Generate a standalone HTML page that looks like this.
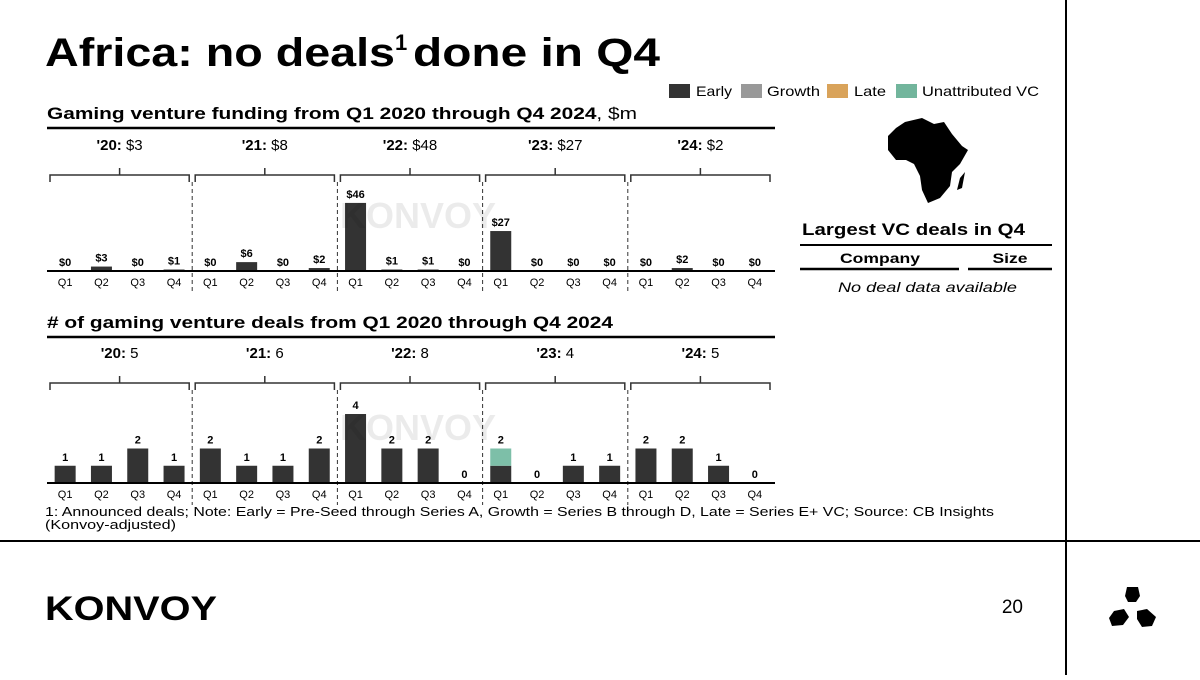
<!DOCTYPE html>
<html><head><meta charset="utf-8">
<style>
body{margin:0;width:1200px;height:675px;background:#fff;overflow:hidden;font-family:"Liberation Sans",sans-serif;}
svg text{font-family:"Liberation Sans",sans-serif;}
</style></head>
<body>
<svg id="s" width="1200" height="675" xmlns="http://www.w3.org/2000/svg">
<line x1="1066" y1="0" x2="1066" y2="675" stroke="#000" stroke-width="2"/>
<line x1="0" y1="541" x2="1200" y2="541" stroke="#000" stroke-width="2"/>
<text x="45" y="66" font-size="40" font-weight="bold"><tspan textLength="350" lengthAdjust="spacingAndGlyphs">Africa: no deals</tspan><tspan font-size="22" dy="-16">1</tspan><tspan dy="16" x="413" textLength="247" lengthAdjust="spacingAndGlyphs">done in Q4</tspan></text>
<g font-size="14">
<rect x="669" y="84" width="21" height="14" fill="#333"/><text x="696" y="96" textLength="36" lengthAdjust="spacingAndGlyphs">Early</text>
<rect x="741" y="84" width="21" height="14" fill="#999"/><text x="767" y="96" textLength="53" lengthAdjust="spacingAndGlyphs">Growth</text>
<rect x="827" y="84" width="21" height="14" fill="#d9a35a"/><text x="854" y="96" textLength="32" lengthAdjust="spacingAndGlyphs">Late</text>
<rect x="896" y="84" width="21" height="14" fill="#72b59c"/><text x="922" y="96" textLength="117" lengthAdjust="spacingAndGlyphs">Unattributed VC</text>
</g>
<text x="47" y="119" font-size="17" font-weight="bold" textLength="590" lengthAdjust="spacingAndGlyphs">Gaming venture funding from Q1 2020 through Q4 2024<tspan font-weight="normal">, $m</tspan></text>
<line x1="47" y1="128" x2="775" y2="128" stroke="#000" stroke-width="2.5"/>
<text x="47" y="328" font-size="17" font-weight="bold" textLength="566" lengthAdjust="spacingAndGlyphs"># of gaming venture deals from Q1 2020 through Q4 2024</text>
<line x1="47" y1="337" x2="775" y2="337" stroke="#000" stroke-width="2.5"/>
<g id="c1"></g>
<g id="c2"></g>
<path d="M905 122 L922 118 L934 124 L944 122 L952 134 L962 146 L968 150 L960 164 L952 172 L950 186 L940 198 L928 203 L922 190 L920 176 L914 164 L906 160 L896 160 L888 150 L888 136 L896 128 Z M960 178 L965 172 L962 188 L957 190 Z" fill="#000"/>
<text x="802" y="235" font-size="17" font-weight="bold" textLength="223" lengthAdjust="spacingAndGlyphs">Largest VC deals in Q4</text>
<line x1="800" y1="245" x2="1052" y2="245" stroke="#000" stroke-width="2"/>
<text x="880" y="263" font-size="14" font-weight="bold" text-anchor="middle" textLength="80" lengthAdjust="spacingAndGlyphs">Company</text>
<text x="1010" y="263" font-size="14" font-weight="bold" text-anchor="middle" textLength="35" lengthAdjust="spacingAndGlyphs">Size</text>
<line x1="800" y1="269" x2="959" y2="269" stroke="#000" stroke-width="2.5"/>
<line x1="968" y1="269" x2="1052" y2="269" stroke="#000" stroke-width="2.5"/>
<text x="838" y="292" font-size="14" font-style="italic" textLength="179" lengthAdjust="spacingAndGlyphs">No deal data available</text>
<text x="45" y="516" font-size="13" textLength="949" lengthAdjust="spacingAndGlyphs">1: Announced deals; Note: Early = Pre-Seed through Series A, Growth = Series B through D, Late = Series E+ VC; Source: CB Insights</text>
<text x="45" y="529" font-size="13" textLength="131" lengthAdjust="spacingAndGlyphs">(Konvoy-adjusted)</text>
<text x="45" y="620" font-size="34" font-weight="bold" textLength="172" lengthAdjust="spacingAndGlyphs">KONVOY</text>
<text x="1023" y="613" font-size="19" text-anchor="end">20</text>
<g fill="#000">
<path d="M1127 587 L1138 587 L1140 596 L1136 602 L1128 602 L1125 596 Z"/>
<path d="M1114 611 L1124 609 L1129 617 L1123 625 L1112 626 L1109 618 Z"/>
<path d="M1137 611 L1147 609 L1156 617 L1152 626 L1142 627 L1137 619 Z"/>
</g>
</svg>
<script>
const years=["'20","'21","'22","'23","'24"];
const quarters=["Q1","Q2","Q3","Q4"];
const fundTotals=["$3","$8","$48","$27","$2"];
const fundEarly=[0,3,0,1,0,6,0,2,46,1,1,0,27,0,0,0,0,2,0,0];
const fundLabels=["$0","$3","$0","$1","$0","$6","$0","$2","$46","$1","$1","$0","$27","$0","$0","$0","$0","$2","$0","$0"];
const dealTotals=["5","6","8","4","5"];
const dealEarly=[1,1,2,1,2,1,1,2,4,2,2,0,1,0,1,1,2,2,1,0];
const dealUnattr=[0,0,0,0,0,0,0,0,0,0,0,0,1,0,0,0,0,0,0,0];
const NS="http://www.w3.org/2000/svg";
function mk(p,t,a){const e=document.createElementNS(NS,t);for(const k in a)e.setAttribute(k,a[k]);p.appendChild(e);return e;}
const x0=47,step=36.3;
function xc(i){return x0+step*(i+0.5);}
function draw(g,base,scale,early,unattr,labels,totals,topY,prefix){
  for(let y=0;y<5;y++){
    const l=x0+step*4*y+3,r=x0+step*4*(y+1)-3,m=(l+r)/2;
    const t=mk(g,'text',{x:m,y:topY,'font-size':15,'text-anchor':'middle'});
    
    
    const b=mk(t,'tspan',{'font-weight':'bold'});b.textContent=years[y]+': ';
    const v=mk(t,'tspan',{});v.textContent=totals[y];
    const br=mk(g,'path',{d:`M${l} ${topY+32} V${topY+25} H${r} V${topY+32} M${m} ${topY+25} V${topY+18}`,fill:'none',stroke:'#333','stroke-width':1.5});
    
    
    if(y>0){const d=mk(g,'line',{x1:l-3,x2:l-3,y1:topY+32,y2:base+22,stroke:'#333','stroke-dasharray':'4,3'});
      
      }
  }
  for(let i=0;i<20;i++){
    const h=early[i]*scale;
    const r=mk(g,'rect',{x:xc(i)-10.5,y:base-h,width:21,height:h,fill:'#333'});
    
    
    let top=base-h;
    if(unattr){const h2=unattr[i]*scale;
      const r2=mk(g,'rect',{x:xc(i)-10.5,y:top-h2,width:21,height:h2,fill:'#7dbfa8'});
      
      
      top-=h2;}
    const tl=mk(g,'text',{x:xc(i),y:top-5,'font-size':11,'font-weight':'bold','text-anchor':'middle'});
    tl.textContent=labels[i];
    
    
    const q=mk(g,'text',{x:xc(i),y:base+15,'font-size':11,'text-anchor':'middle'});
    q.textContent=quarters[i%4];
    
    
  }
  const ax=mk(g,'line',{x1:x0,x2:775,y1:base,y2:base,stroke:'#000','stroke-width':2});
  
  
}
[[300,228],[300,440]].forEach(p=>{const w=mk(document.getElementById('s'),'text',{x:p[0]+40,y:p[1],'font-size':36,'font-weight':'bold',fill:'#000','fill-opacity':0.08});w.textContent='KONVOY';

});
draw(document.getElementById('c1'),271,1.48,fundEarly,null,fundLabels,fundTotals,150,'funding');
const dl=dealEarly.map((v,i)=>String(v+dealUnattr[i]));
draw(document.getElementById('c2'),483,17.25,dealEarly,dealUnattr,dl,dealTotals,358,'deals');
</script>
</body></html>
